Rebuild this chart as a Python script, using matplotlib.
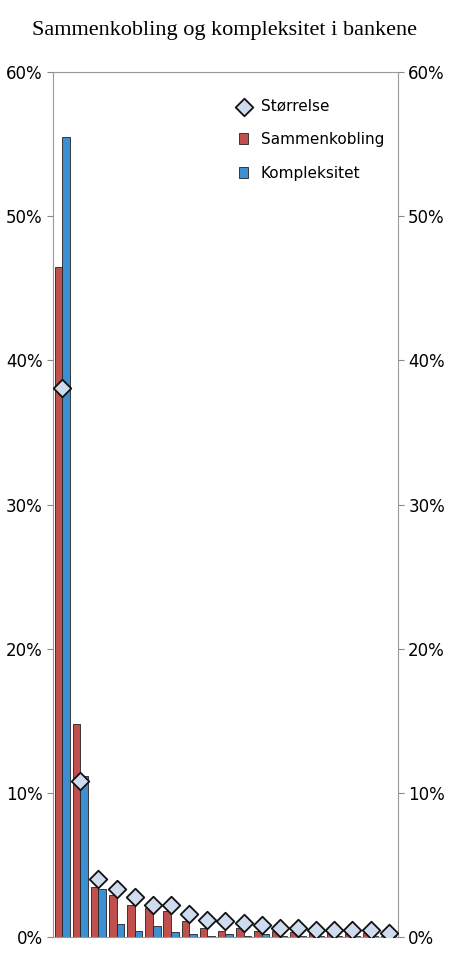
import matplotlib
matplotlib.use("Agg")
import matplotlib.pyplot as plt
import numpy as np
from matplotlib.ticker import FuncFormatter

sammenkobling = [46.5, 14.8, 3.5, 2.9, 2.2, 2.0, 1.8, 1.1, 0.6, 0.4, 0.6, 0.45, 0.4, 0.35, 0.3, 0.3, 0.3, 0.3, 0.1]
kompleksitet = [55.5, 11.2, 3.3, 0.9, 0.4, 0.75, 0.35, 0.2, 0.1, 0.2, 0.1, 0.2, 0.1, 0.05, 0.05, 0.05, 0.05, 0.05, 0.1]
storrelse = [38.1, 10.8, 4.0, 3.3, 2.8, 2.2, 2.2, 1.6, 1.2, 1.1, 1.0, 0.8, 0.6, 0.6, 0.5, 0.5, 0.5, 0.5, 0.3]
yticks = [0, 10, 20, 30, 40, 50, 60]

fig = plt.figure(figsize=(4.5, 9.68), dpi=100)
ax = fig.add_axes([0.118, 0.032, 0.766, 0.8935])
x = np.arange(len(sammenkobling))
w = 0.42
ax.bar(x - w/2, sammenkobling, w, color="#c0504d", edgecolor="#222222", linewidth=0.6, label="Sammenkobling")
ax.bar(x + w/2, kompleksitet, w, color="#3d8fd1", edgecolor="#222222", linewidth=0.6, label="Kompleksitet")
ax.scatter(x, storrelse, marker="D", s=80, color="#cfdcf0", edgecolor="#111111", linewidth=1.3, zorder=5, label="Størrelse")
ax.set_xlim(-0.5, len(x) - 0.5)
ax.set_ylim(0, 60)
ax.set_yticks(yticks)
fmt = FuncFormatter(lambda v, p: f"{v:.0f}%")
ax.yaxis.set_major_formatter(fmt)
ax.set_xticks([])
ax.tick_params(axis="y", labelsize=12, length=4, color="#888888", labelright=True, right=True)
for s in ax.spines.values():
    s.set_color("#999999")
ax.legend(loc="upper right", bbox_to_anchor=(1.0, 0.985), frameon=False, fontsize=11, handlelength=0.6, labelspacing=1.2)
fig.text(0.5, 0.968, "Sammenkobling og kompleksitet i bankene", ha="center", va="center",
         family="Liberation Serif", fontsize=16)
fig.savefig("out.png", dpi=100)
